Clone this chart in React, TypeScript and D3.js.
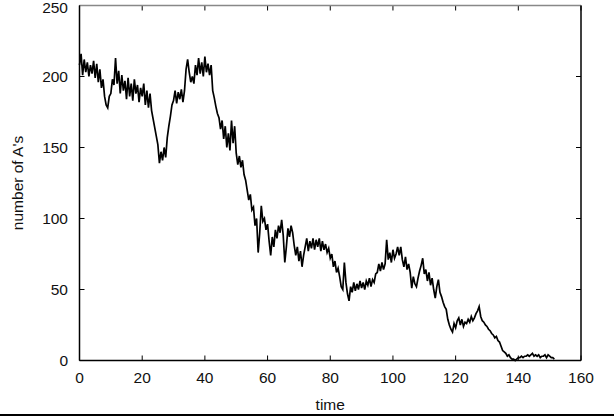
import React from "react";
import * as d3 from "d3";

const T_STEP = 0.5;
const countA: number[] = [
  208, 216, 201, 212, 203, 210, 200, 208, 202, 211,
  199, 209, 196, 205, 192, 198, 186, 180, 178, 186,
  188, 198, 194, 213, 195, 204, 188, 201, 190, 197,
  184, 199, 186, 195, 183, 198, 188, 194, 182, 192,
  186, 195, 180, 190, 178, 188, 176, 170, 164, 158,
  152, 139, 147, 141, 150, 143, 157, 165, 172, 180,
  183, 190, 181, 189, 184, 191, 182, 190, 205, 212,
  203, 196, 200, 195, 208, 201, 213, 202, 210, 200,
  214, 203, 209, 201, 208, 190, 185, 179, 174, 171,
  163, 169, 156, 165, 150, 160, 148, 169, 153, 165,
  146, 138, 144, 136, 141, 131, 127, 120, 113, 117,
  106, 108, 95, 100, 76, 90, 109, 98, 100, 92,
  96, 84, 74, 87, 80, 92, 86, 95, 90, 99,
  88, 69, 80, 93, 87, 95, 90, 81, 74, 80,
  70, 77, 66, 74, 80, 86, 77, 84, 79, 86,
  78, 85, 80, 86, 77, 84, 78, 82, 76, 79,
  72, 75, 66, 70, 62, 65, 59, 52, 50, 69,
  55, 47, 42, 52, 48, 55, 49, 54, 50, 56,
  51, 55, 50, 56, 53, 58, 52, 57, 55, 61,
  62, 68, 63, 69, 64, 68, 85, 71, 76, 69,
  78, 72, 75, 80, 74, 80, 71, 66, 73, 64,
  68, 62, 51, 59, 54, 52, 58, 63, 67, 72,
  61, 64, 56, 62, 53, 58, 50, 44, 52, 57,
  48, 45, 41, 38, 36, 29, 25, 22, 20, 26,
  23, 28, 30, 25, 29, 24, 27, 26, 29, 27,
  31, 28, 30, 33, 35, 38, 31, 28, 27, 25,
  24, 22, 21, 19, 18, 16, 17, 14, 13, 10,
  7, 6, 5, 3, 4, 2, 1, 1, 0, 1,
  2, 2, 3, 2, 3, 3, 4, 3, 4, 5,
  3, 4, 3, 4, 2, 3, 3, 4, 2, 4,
  3, 2, 2, 1,
];

const xTicks = [0, 20, 40, 60, 80, 100, 120, 140, 160];
const yTicks = [0, 50, 100, 150, 200, 250];
const xTitle = "time";
const yTitle = "number of A's";

export default function App() {
  const W = 614, H = 417;
  const left = 79.5, right = 581, top = 5.5, bottom = 360.5;
  const x = d3.scaleLinear().domain([0, 160]).range([left, right]);
  const y = d3.scaleLinear().domain([0, 250]).range([bottom, top]);
  const data = countA.map((v, i) => [i * T_STEP, v] as [number, number]);
  const line = d3.line<[number, number]>().x((d) => x(d[0])).y((d) => y(d[1]));
  const font = "'Liberation Sans', Arial, sans-serif";
  const tl = 5;
  return (
    <svg width={W} height={H} style={{ position: "absolute", left: 0, top: 0, background: "#fff" }}>
      <rect x={0} y={0} width={W} height={H} fill="#fff" />
      {xTicks.map((t) => (
        <g key={"xt" + t}>
          <line x1={x(t)} x2={x(t)} y1={bottom} y2={bottom - tl} stroke="#000" strokeWidth={1} />
          <line x1={x(t)} x2={x(t)} y1={top} y2={top + tl} stroke="#000" strokeWidth={1} />
          <text x={x(t)} y={383} textAnchor="middle" fontFamily={font} fontSize={15.5} fill="#111">{t}</text>
        </g>
      ))}
      {yTicks.map((t) => (
        <g key={"yt" + t}>
          <line x1={left} x2={left + tl} y1={y(t)} y2={y(t)} stroke="#000" strokeWidth={1} />
          <line x1={right} x2={right - tl} y1={y(t)} y2={y(t)} stroke="#000" strokeWidth={1} />
          <text x={68} y={Math.max(y(t), 7)} dy="0.36em" textAnchor="end" fontFamily={font} fontSize={15.5} fill="#111">{t}</text>
        </g>
      ))}
      <line x1={left} x2={right} y1={top} y2={top} stroke="#888" strokeWidth={1.5} />
      <line x1={left} x2={left} y1={top} y2={bottom} stroke="#000" strokeWidth={1.5} />
      <line x1={right} x2={right} y1={top} y2={bottom} stroke="#000" strokeWidth={1.5} />
      <line x1={left} x2={right} y1={bottom} y2={bottom} stroke="#000" strokeWidth={1.5} />
      <path d={line(data) || ""} fill="none" stroke="#000" strokeWidth={1.7} strokeLinejoin="miter" />
      <text x={(left + right) / 2} y={410} textAnchor="middle" fontFamily={font} fontSize={15.5} fill="#111">{xTitle}</text>
      <text transform={`translate(23, ${(top + bottom) / 2}) rotate(-90)`} textAnchor="middle" fontFamily={font} fontSize={15.5} fill="#111">{yTitle}</text>
      <rect x={0} y={414} width={W} height={2} fill="#000" />
    </svg>
  );
}
